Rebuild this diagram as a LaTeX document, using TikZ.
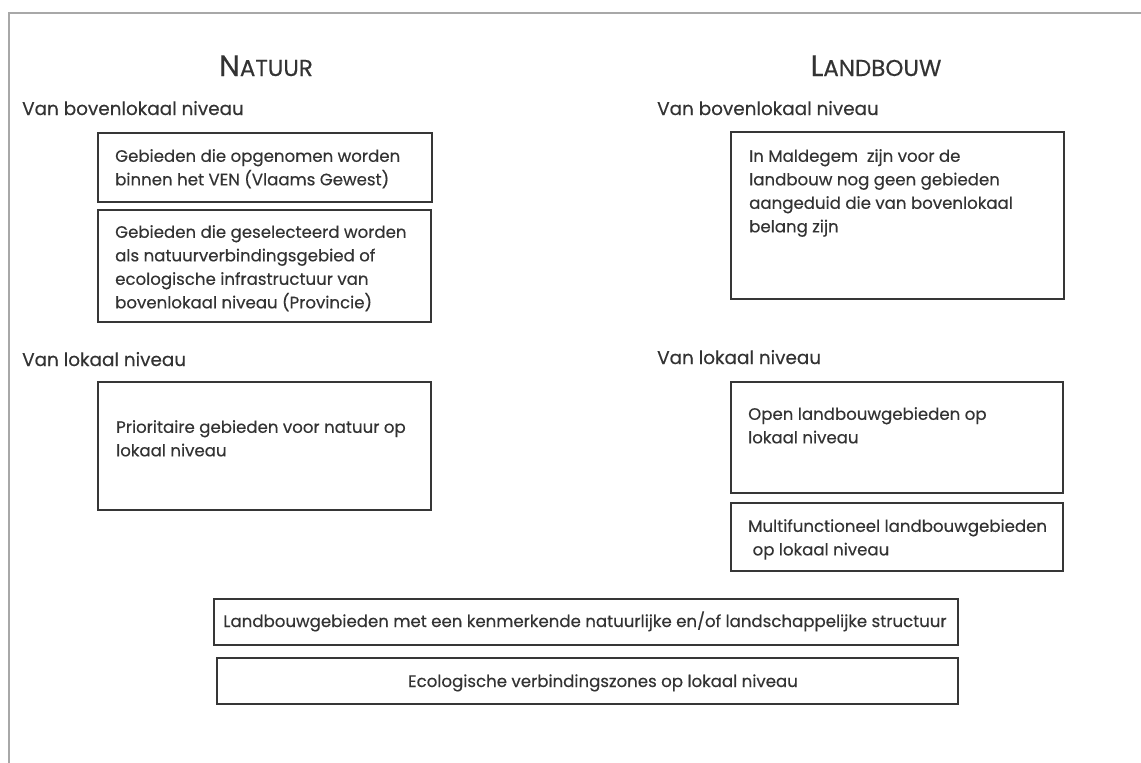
\documentclass[tikz,border=0pt]{standalone}
\usepackage{fontspec}
\setmainfont{Poppins}[FakeBold=0.4]
\definecolor{inkgray}{HTML}{333333}
\definecolor{boxline}{HTML}{363636}
\definecolor{framegray}{HTML}{A8A8A8}
\newcommand{\kopsc}[2]{{\fontsize{29.5}{29.5}\selectfont #1}{\fontsize{23}{23}\selectfont #2}}
\tikzset{
  panel/.style={rectangle, draw=boxline, line width=1.9pt, anchor=north west, inner sep=0pt},
  paneltext/.style={anchor=north west, align=left, inner sep=0pt, text=inkgray, font=\fontsize{16.6}{23.5}\selectfont},
  bandtext/.style={anchor=base, inner sep=0pt, text=inkgray, font=\fontsize{16.6}{23.5}\selectfont},
  heading/.style={anchor=base west, inner sep=0pt, text=inkgray, font=\fontsize{18.4}{24}\selectfont},
  kop/.style={anchor=base, inner sep=0pt, text=inkgray},
  frameline/.style={draw=framegray, line width=1.4pt}
}
\begin{document}
\begin{tikzpicture}[x=1pt, y=-1pt]
\useasboundingbox (0,0) rectangle (1141,763);

% page frame
\coordinate (framebl) at (9,763);
\coordinate (frametl) at (9,13);
\coordinate (frametr) at (1141,13);
\draw[frameline] (framebl) -- (frametl) -- (frametr);

% column titles
\node[kop] (natuur) at (266,76) {\kopsc{N}{ATUUR}};
\node[kop] (landbouw) at (876,76) {\kopsc{L}{ANDBOUW}};

% Natuur column.
\node[heading] (natboven) at (22,115) {Van bovenlokaal niveau};
\node[panel, minimum width=334pt, minimum height=69pt] (ven) at (97,132) {};
\node[paneltext] (ventext) at (115,149) {Gebieden die opgenomen worden\\binnen het VEN (Vlaams Gewest)};
\node[panel, minimum width=333pt, minimum height=112pt] (provincie) at (97,209) {};
\node[paneltext] (provincietext) at (115,225) {Gebieden die geselecteerd worden\\als natuurverbindingsgebied of\\ecologische infrastructuur van\\bovenlokaal niveau (Provincie)};

\node[heading] (natlokaal) at (22,366) {Van lokaal niveau};
\node[panel, minimum width=333pt, minimum height=128pt] (prioritair) at (97,381) {};
\node[paneltext] (prioritairtext) at (116,420) {Prioritaire gebieden voor natuur op\\lokaal niveau};

% Landbouw column.
\node[heading] (lbboven) at (657,115) {Van bovenlokaal niveau};
\node[panel, minimum width=333pt, minimum height=167pt] (maldegem) at (730,131) {};
\node[paneltext] (maldegemtext) at (749,149) {In Maldegem\ \ zijn voor de\\landbouw nog geen gebieden\\aangeduid die van bovenlokaal\\belang zijn};

\node[heading] (lblokaal) at (657,364) {Van lokaal niveau};
\node[panel, minimum width=332pt, minimum height=111pt] (open) at (730,381) {};
\node[paneltext] (opentext) at (748,407) {Open landbouwgebieden op\\lokaal niveau};
\node[panel, minimum width=332pt, minimum height=68pt] (multi) at (730,502) {};
\node[paneltext] (multitext) at (748,519) {Multifunctioneel landbouwgebieden\\\ op lokaal niveau};

% shared bands
\node[panel, minimum width=744pt, minimum height=46pt] (kenmerk) at (213,598) {};
\node[bandtext] (kenmerktext) at (585,627) {Landbouwgebieden met een kenmerkende natuurlijke en/of landschappelijke structuur};
\node[panel, minimum width=741pt, minimum height=46pt] (ecozone) at (216,657) {};
\node[bandtext] (ecozonetext) at (603,687) {Ecologische verbindingszones op lokaal niveau};

\end{tikzpicture}
\end{document}
